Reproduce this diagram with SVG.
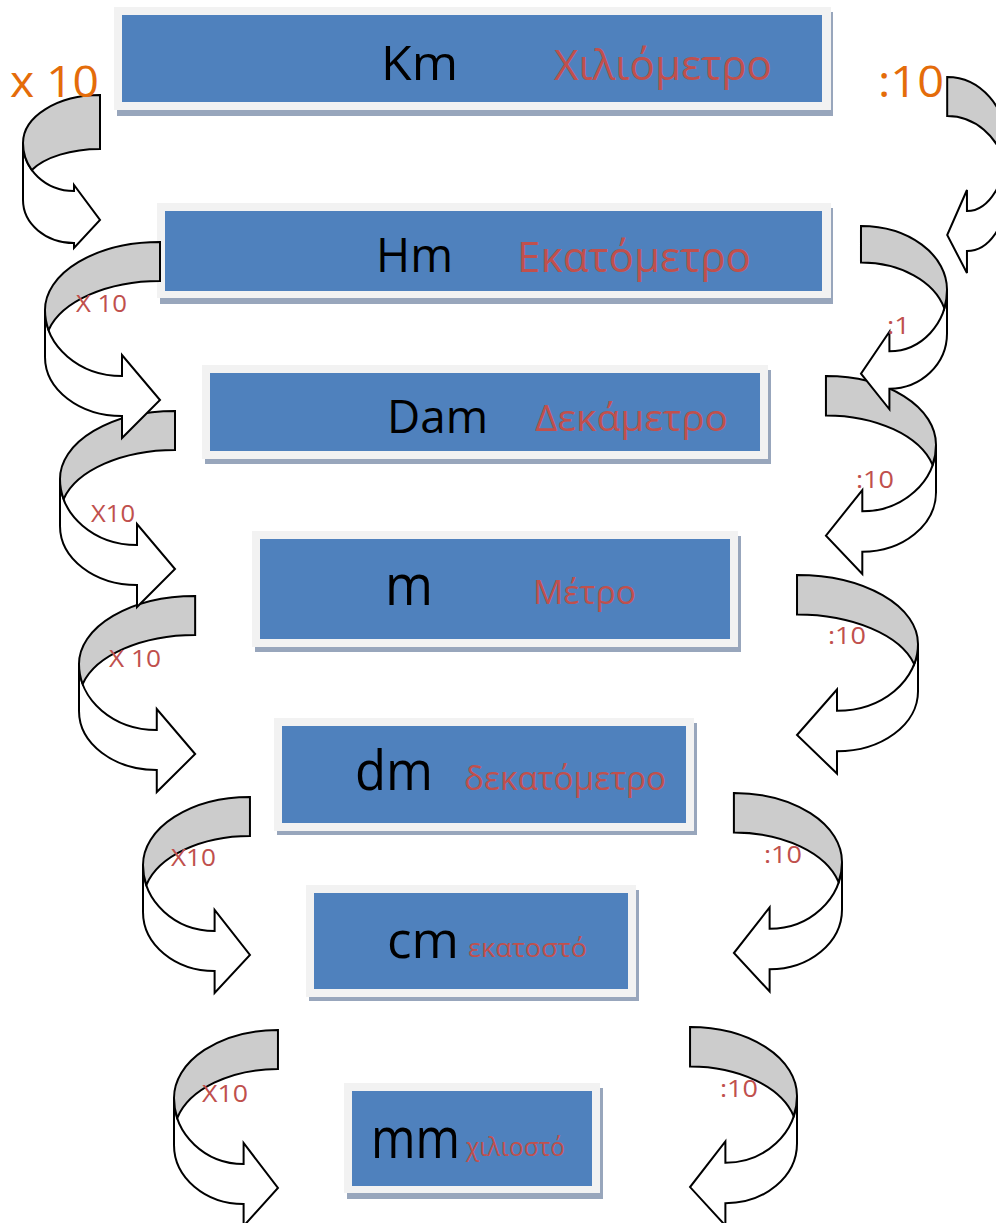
<svg xmlns="http://www.w3.org/2000/svg" xmlns:xlink="http://www.w3.org/1999/xlink" width="996" height="1223" viewBox="0 0 996 1223">
<style>
.frame{fill:#f2f2f2}
.blue{fill:#4f81bd}
.shadow{fill:#98a6bc}
.w{fill:#ffffff;stroke:#000;stroke-width:2;stroke-linejoin:miter;vector-effect:non-scaling-stroke}
.g{fill:#cccccc;stroke:#000;stroke-width:2;stroke-linejoin:miter;vector-effect:non-scaling-stroke}
text{font-family:"Open Sans","Liberation Sans",sans-serif}
.unit{fill:#000}
.gr{fill:#c0504d}
.or{fill:#e46c0a}
.lbl{fill:#c0504d;font-size:24px}
</style>
<defs>
<g id="carrow">
<path class="w" d="M0,68 A77,66 0 0 0 77,134 L77,113 L115,158 L77,196 L77,174 A77,59 0 0 1 0,115 Z"/>
<path class="g" d="M115,0 A115,68 0 0 0 0,68 A77,66 0 0 0 3.6,88 A115,65.2 0 0 1 115,39 Z"/>
</g>
</defs>

<g id="box-km">
<rect class="shadow" x="117" y="12" width="716" height="104"/>
<rect class="frame" x="114" y="7" width="717" height="103"/>
<rect class="blue" x="122" y="15" width="700" height="87"/>
<text class="unit" x="381" y="80" font-size="48" textLength="77" lengthAdjust="spacingAndGlyphs">Km</text>
<text class="gr" x="554" y="80" font-size="42" textLength="218" lengthAdjust="spacingAndGlyphs">Χιλιόμετρο</text>
</g>
<g id="box-hm">
<rect class="shadow" x="160" y="208" width="673" height="96"/>
<rect class="frame" x="157" y="203" width="674" height="95"/>
<rect class="blue" x="165" y="211" width="657" height="80"/>
<text class="unit" x="376" y="272" font-size="48" textLength="77" lengthAdjust="spacingAndGlyphs">Hm</text>
<text class="gr" x="517" y="272" font-size="42" textLength="234" lengthAdjust="spacingAndGlyphs">Εκατόμετρο</text>
</g>
<g id="box-dam">
<rect class="shadow" x="205" y="370" width="566" height="94"/>
<rect class="frame" x="202" y="365" width="566" height="94"/>
<rect class="blue" x="210" y="373" width="550" height="78"/>
<text class="unit" x="387" y="433" font-size="46" textLength="101" lengthAdjust="spacingAndGlyphs">Dam</text>
<text class="gr" x="535" y="431" font-size="36" textLength="193" lengthAdjust="spacingAndGlyphs">Δεκάμετρο</text>
</g>
<g id="box-m">
<rect class="shadow" x="255" y="536" width="486" height="116"/>
<rect class="frame" x="252" y="531" width="486" height="116"/>
<rect class="blue" x="260" y="539" width="470" height="100"/>
<text class="unit" x="385" y="605" font-size="56" textLength="48" lengthAdjust="spacingAndGlyphs">m</text>
<text class="gr" x="533" y="604" font-size="32" textLength="103" lengthAdjust="spacingAndGlyphs">Μέτρο</text>
</g>
<g id="box-dm">
<rect class="shadow" x="277" y="723" width="420" height="112"/>
<rect class="frame" x="274" y="718" width="420" height="113"/>
<rect class="blue" x="282" y="726" width="404" height="97"/>
<text class="unit" x="355" y="790" font-size="54" textLength="78" lengthAdjust="spacingAndGlyphs">dm</text>
<text class="gr" x="464" y="790" font-size="32" textLength="202" lengthAdjust="spacingAndGlyphs">δεκατόμετρο</text>
</g>
<g id="box-cm">
<rect class="shadow" x="309" y="890" width="330" height="111"/>
<rect class="frame" x="306" y="885" width="330" height="112"/>
<rect class="blue" x="314" y="893" width="314" height="96"/>
<text class="unit" x="387" y="958" font-size="52" textLength="72" lengthAdjust="spacingAndGlyphs">cm</text>
<text class="gr" x="468" y="957" font-size="26" textLength="119" lengthAdjust="spacingAndGlyphs">εκατοστό</text>
</g>
<g id="box-mm">
<rect class="shadow" x="347" y="1088" width="256" height="111"/>
<rect class="frame" x="344" y="1083" width="256" height="110"/>
<rect class="blue" x="352" y="1091" width="240" height="95"/>
<text class="unit" x="371" y="1158" font-size="56" textLength="89" lengthAdjust="spacingAndGlyphs">mm</text>
<text class="gr" x="466" y="1156" font-size="26" textLength="99" lengthAdjust="spacingAndGlyphs">χιλιοστό</text>
</g>

<g id="connectors">
<use xlink:href="#carrow" href="#carrow" transform="translate(174,1030) scale(0.904,1)"/>
<use xlink:href="#carrow" href="#carrow" transform="translate(143,797) scale(0.93,1)"/>
<use xlink:href="#carrow" href="#carrow" transform="translate(79,596) scale(1.01,1)"/>
<use xlink:href="#carrow" href="#carrow" transform="translate(60,411)"/>
<use xlink:href="#carrow" href="#carrow" transform="translate(45,242)"/>
<g transform="translate(23,95)">
<path class="w" d="M0,48 A51,48 0 0 0 51,96 L51,90 L77,125 L51,153 L51,148 A51,43 0 0 1 0,105 Z"/>
<path class="g" d="M77,0 A77,48 0 0 0 0,48 A51,48 0 0 0 8.8,75 A77,39.2 0 0 1 77,54 Z"/>
</g>
<use xlink:href="#carrow" href="#carrow" transform="translate(797,1027) scale(-0.93,1.013)"/>
<use xlink:href="#carrow" href="#carrow" transform="translate(842,793) scale(-0.94,1.013)"/>
<use xlink:href="#carrow" href="#carrow" transform="translate(918,575) scale(-1.052,1.013)"/>
<use xlink:href="#carrow" href="#carrow" transform="translate(936,376) scale(-0.957,1.01)"/>
<use xlink:href="#carrow" href="#carrow" transform="translate(947,226) scale(-0.748,0.935)"/>
<use xlink:href="#carrow" href="#carrow" transform="translate(1007,77) scale(-0.52,1)"/>
</g>

<g id="labels">
<text class="or" x="10" y="97" font-size="44" textLength="89" lengthAdjust="spacingAndGlyphs">x 10</text>
<text class="or" x="878" y="97" font-size="44" textLength="66" lengthAdjust="spacingAndGlyphs">:10</text>
<text class="lbl" x="76" y="312" textLength="51" lengthAdjust="spacingAndGlyphs">X 10</text>
<text class="lbl" x="91" y="522" textLength="44" lengthAdjust="spacingAndGlyphs">X10</text>
<text class="lbl" x="109" y="667" textLength="52" lengthAdjust="spacingAndGlyphs">X 10</text>
<text class="lbl" x="171" y="866" textLength="45" lengthAdjust="spacingAndGlyphs">X10</text>
<text class="lbl" x="202" y="1102" textLength="46" lengthAdjust="spacingAndGlyphs">X10</text>
<text class="lbl" x="887" y="334" textLength="23" lengthAdjust="spacingAndGlyphs">:1</text>
<text class="lbl" x="856" y="488" textLength="38" lengthAdjust="spacingAndGlyphs">:10</text>
<text class="lbl" x="828" y="644" textLength="38" lengthAdjust="spacingAndGlyphs">:10</text>
<text class="lbl" x="764" y="863" textLength="38" lengthAdjust="spacingAndGlyphs">:10</text>
<text class="lbl" x="720" y="1097" textLength="38" lengthAdjust="spacingAndGlyphs">:10</text>
</g>
</svg>
